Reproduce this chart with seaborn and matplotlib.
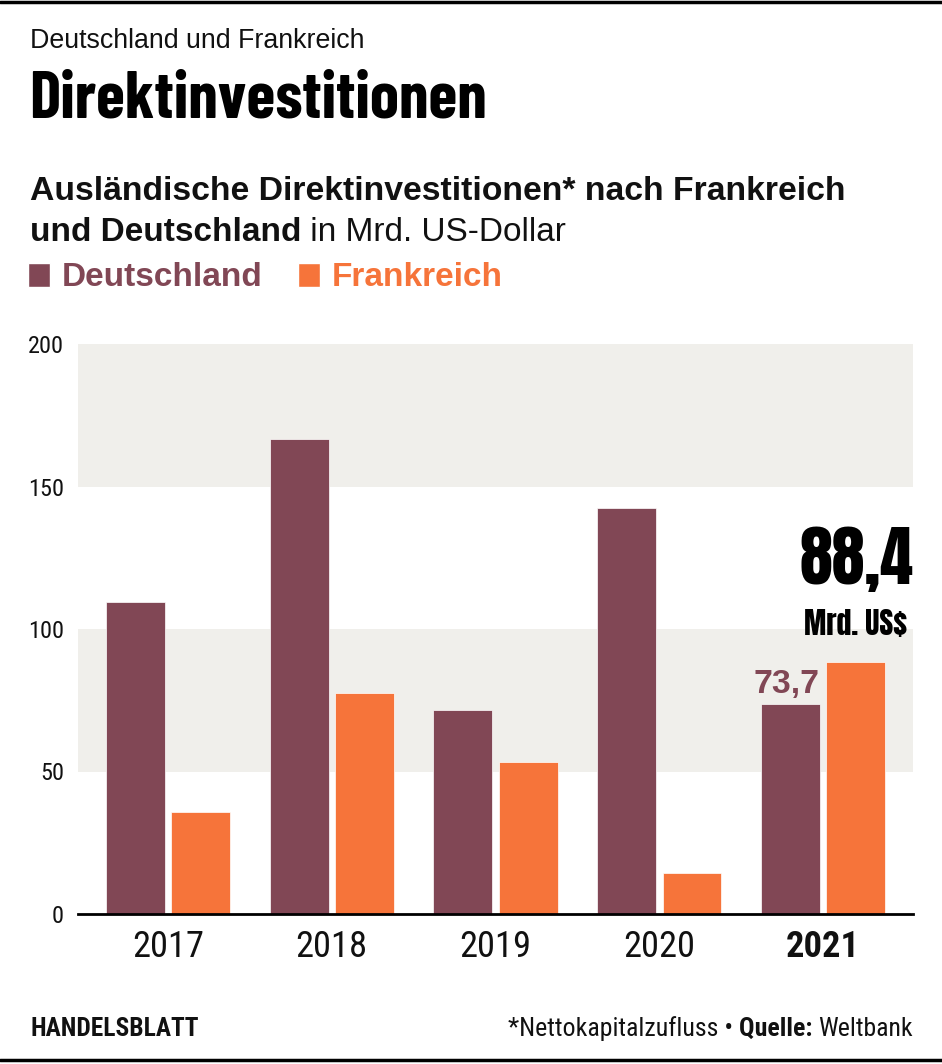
"""Direktinvestitionen nach Deutschland und Frankreich, Handelsblatt-style bar chart."""

import matplotlib
matplotlib.use("Agg")
import matplotlib.pyplot as plt
import pandas as pd
import seaborn as sns
from matplotlib import font_manager
from matplotlib.lines import Line2D
from matplotlib.patches import Patch

# Data (Mrd. US-Dollar)
years = ["2017", "2018", "2019", "2020", "2021"]
deutschland = [109.5, 166.8, 71.6, 142.5, 73.7]
frankreich = [35.8, 77.5, 53.3, 14.4, 88.4]
y_ticks = [0, 50, 100, 150, 200]
countries = ["Deutschland", "Frankreich"]

MAROON = "#814755"
ORANGE = "#F6743A"
BAND = "#F0EFEB"
INK = "#111111"

sns.set_theme(style="white")
installed = {f.name for f in font_manager.fontManager.ttflist}


def pick(*names):
    """First installed family of the list."""
    for n in names:
        if n in installed:
            return n
    return "DejaVu Sans"


SANS = pick("Liberation Sans", "Arimo")
HEADLINE = pick("Barlow Condensed", "Roboto Condensed", "Oswald", "Liberation Sans Narrow")
HEAVY = pick("Anton", "Oswald", "Roboto Condensed", "Liberation Sans Narrow")
COND = pick("Roboto Condensed", "IBM Plex Sans Condensed", "Liberation Sans Narrow", "Liberation Sans")
plt.rcParams["font.family"] = [SANS, "DejaVu Sans"]

df = pd.DataFrame({
    "Jahr": years * 2,
    "Wert": deutschland + frankreich,
    "Land": [countries[0]] * len(years) + [countries[1]] * len(years),
})

W, H = 942, 1064
fig = plt.figure(figsize=(W / 100, H / 100), dpi=100, facecolor="white")
ax = fig.add_axes([78 / W, 1 - 914 / H, (913 - 78) / W, (914 - 344) / H])
renderer = fig.canvas.get_renderer()


def fit(txt, width_px):
    """Scale a text's font size so that it spans width_px pixels."""
    w = txt.get_window_extent(renderer).width
    txt.set_fontsize(txt.get_fontsize() * width_px / w)
    return txt


# grey bands between 50-100 and 150-200
for lo in y_ticks[1::2]:
    ax.axhspan(lo, lo + 50, color=BAND, lw=0, zorder=0)

sns.barplot(
    data=df, x="Jahr", y="Wert", hue="Land",
    palette=[MAROON, ORANGE], saturation=1, width=0.8, gap=0.1,
    edgecolor="white", linewidth=0.5, legend=False, ax=ax, zorder=2,
)

ax.set_xlim(-0.55, 4.55)
ax.set_ylim(0, 200)
ax.set_yticks(y_ticks)
ax.set_xlabel("")
ax.set_ylabel("")
sns.despine(ax=ax, left=True)
ax.spines["bottom"].set_color("black")
ax.spines["bottom"].set_linewidth(2)
ax.spines["bottom"].set_zorder(5)
ax.tick_params(length=0)
ax.tick_params(axis="y", pad=10, labelcolor=INK)
ax.tick_params(axis="x", pad=11, labelcolor=INK)
for lab in ax.get_yticklabels() + ax.get_xticklabels():
    lab.set_fontfamily(COND)
ytick_size = fit(ax.get_yticklabels()[-1], 36).get_fontsize()
xtick_size = fit(ax.get_xticklabels()[0], 72).get_fontsize()
ax.tick_params(axis="y", labelsize=ytick_size)
ax.tick_params(axis="x", labelsize=xtick_size)
ax.get_xticklabels()[-1].set_fontweight("bold")

# value labels for 2021
t737 = ax.annotate(
    f"{deutschland[-1]:.1f}".replace(".", ","),
    xy=(len(years) - 1 - 0.02, deutschland[-1]), xytext=(0, 3),
    textcoords="offset points", ha="right", va="bottom",
    fontsize=28, fontweight="bold", color=MAROON, family=SANS,
)
fit(t737, 66)
t884 = ax.annotate(
    f"{frankreich[-1]:.1f}".replace(".", ","),
    xy=(1.0, frankreich[-1]), xycoords=("axes fraction", "data"),
    xytext=(0, 56), textcoords="offset points", ha="right", va="baseline",
    fontsize=60, color="black", family=HEAVY,
)
fit(t884, 114)
tusd = ax.annotate(
    "Mrd. US$",
    xy=(1.0, frankreich[-1]), xycoords=("axes fraction", "data"),
    xytext=(-4, 19.5), textcoords="offset points", ha="right", va="baseline",
    fontsize=24, color="black", family=HEAVY,
)
fit(tusd, 103)

# header
fit(fig.text(30 / W, 1 - 48 / H, "Deutschland und Frankreich", fontsize=19,
             color=INK, va="baseline"), 336)
fit(fig.text(29 / W, 1 - 118 / H, "Direktinvestitionen", fontsize=44,
             fontweight="bold", family=HEADLINE, color="black", va="baseline"), 458)
fit(fig.text(30 / W, 1 - 200 / H, "Ausländische Direktinvestitionen* nach Frankreich",
             fontsize=24, fontweight="bold", color=INK, va="baseline"), 818)
t_line2 = fig.text(30 / W, 1 - 241 / H, "und Deutschland", fontsize=24,
                   fontweight="bold", color=INK, va="baseline")
ax.annotate(" in Mrd. US-Dollar", xy=(1, 0), xycoords=t_line2, ha="left",
            va="bottom", fontsize=24, color=INK, annotation_clip=False)

# legend
handles = [Patch(facecolor=c, label=l) for c, l in zip([MAROON, ORANGE], countries)]
leg = fig.legend(
    handles=handles, loc="center left", bbox_to_anchor=(28 / W, 1 - 278 / H),
    ncol=2, frameon=False, prop={"size": 24, "weight": "bold", "family": SANS},
    handlelength=0.66, handleheight=0.75, handletextpad=0.36,
    columnspacing=1.05, borderpad=0, borderaxespad=0,
)
for txt, c in zip(leg.get_texts(), [MAROON, ORANGE]):
    txt.set_color(c)

# footer
fit(fig.text(30 / W, 1 - 1036 / H, "HANDELSBLATT", fontsize=18, fontweight="bold",
             family=COND, color=INK, va="baseline"), 168)
t_wb = fig.text(913 / W, 1 - 1036 / H, "Weltbank", fontsize=19, family=COND,
                color=INK, ha="right", va="baseline")
t_q = ax.annotate("Quelle: ", xy=(0, 0), xycoords=t_wb, ha="right", va="bottom",
                  fontsize=19, fontweight="bold", family=COND, color=INK,
                  annotation_clip=False)
t_n = ax.annotate("*Nettokapitalzufluss \u2022 ", xy=(0, 0), xycoords=t_q, ha="right",
                  va="bottom", fontsize=19, family=COND, color=INK,
                  annotation_clip=False)
foot = [t_wb, t_q, t_n]
total = sum(t.get_window_extent(renderer).width for t in foot)
for t in foot:
    t.set_fontsize(t.get_fontsize() * 406 / total)

# black rules top and bottom
fig.add_artist(Line2D([0, 1], [1 - 1.5 / H] * 2, color="black", lw=2.5,
                      transform=fig.transFigure))
fig.add_artist(Line2D([0, 1], [1 - 1060 / H] * 2, color="black", lw=2.5,
                      transform=fig.transFigure))

fig.savefig("out.png", dpi=100, facecolor="white")
